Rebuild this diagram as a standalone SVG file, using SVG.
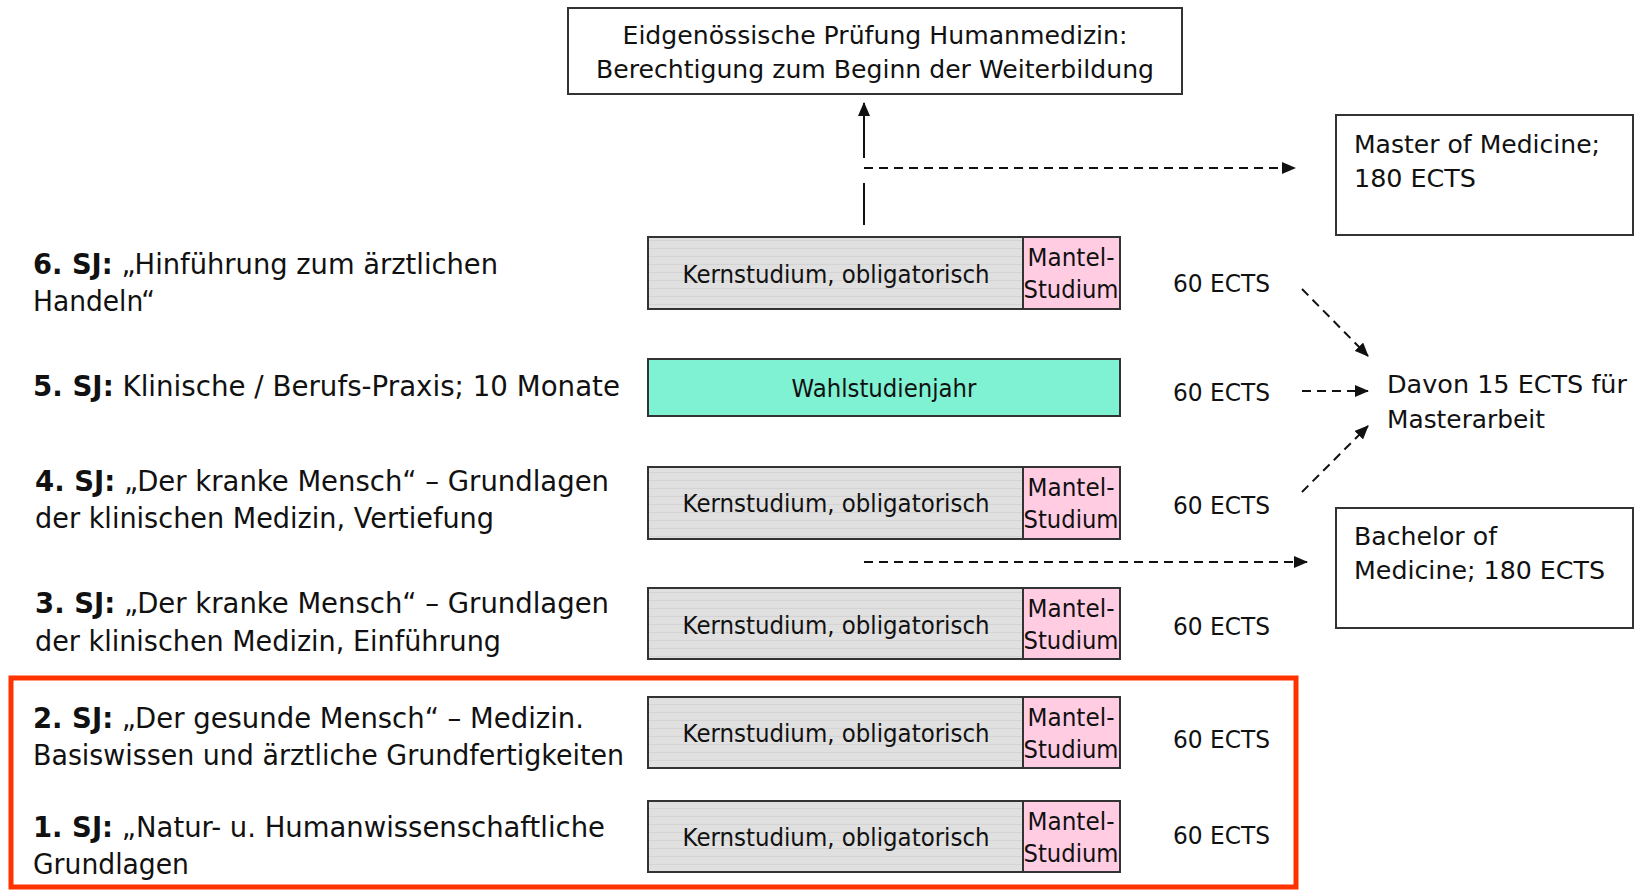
<svg xmlns="http://www.w3.org/2000/svg" width="1640" height="891" viewBox="0 0 1640 891">
<style>
text{font-family:"DejaVu Sans","Liberation Sans",sans-serif;fill:#111;}
.lbl{font-size:28px;}
.b{font-weight:bold;}
.box{fill:#fff;stroke:#333;stroke-width:2;}
.bt{font-size:25px;}
.kern{fill:url(#stripes);stroke:#333;stroke-width:2;}
.mant{fill:#FFCCE2;stroke:#333;stroke-width:2;}
.wahl{fill:#80F2D4;stroke:#333;stroke-width:2;}
.bar{font-size:24px;text-anchor:middle;}
.mt{font-size:24px;text-anchor:middle;}
.ects{font-size:25px;}
.dash{stroke:#111;stroke-width:2;stroke-dasharray:9 6;fill:none;marker-end:url(#ah);}
.solid{stroke:#111;stroke-width:2;fill:none;}
</style>
<defs>
<pattern id="stripes" width="10" height="8" patternUnits="userSpaceOnUse">
<rect width="10" height="8" fill="#E0E0E0"/>
<rect y="0" width="10" height="1" fill="#D4D4D4"/>
</pattern>
<marker id="ah" viewBox="0 0 14 12" refX="13" refY="6" markerWidth="14" markerHeight="12" markerUnits="userSpaceOnUse" orient="auto">
<path d="M0,0 L14,6 L0,12 Z" fill="#111"/>
</marker>
</defs>
<rect width="1640" height="891" fill="#fff"/>

<g id="pruefung">
<rect class="box" x="568" y="8" width="614" height="86"/>
<text class="bt" x="875" y="44" text-anchor="middle" textLength="505" lengthAdjust="spacingAndGlyphs">Eidgenössische Prüfung Humanmedizin:</text>
<text class="bt" x="875" y="78" text-anchor="middle" textLength="558" lengthAdjust="spacingAndGlyphs">Berechtigung zum Beginn der Weiterbildung</text>
</g>

<g id="master">
<rect class="box" x="1336" y="115" width="297" height="120"/>
<text class="bt" x="1354" y="153" textLength="246" lengthAdjust="spacingAndGlyphs">Master of Medicine;</text>
<text class="bt" x="1354" y="187" textLength="122" lengthAdjust="spacingAndGlyphs">180 ECTS</text>
</g>

<g id="davon">
<text class="bt" x="1387" y="393" textLength="240" lengthAdjust="spacingAndGlyphs">Davon 15 ECTS für</text>
<text class="bt" x="1387" y="428" textLength="158" lengthAdjust="spacingAndGlyphs">Masterarbeit</text>
</g>

<g id="bachelor">
<rect class="box" x="1336" y="508" width="297" height="120"/>
<text class="bt" x="1354" y="545" textLength="143" lengthAdjust="spacingAndGlyphs">Bachelor of</text>
<text class="bt" x="1354" y="579" textLength="251" lengthAdjust="spacingAndGlyphs">Medicine; 180 ECTS</text>
</g>

<g id="sj6">
<text class="lbl" x="33" y="274" textLength="465" lengthAdjust="spacingAndGlyphs"><tspan class="b">6. SJ:</tspan> „Hinführung zum ärztlichen</text>
<text class="lbl" x="33" y="311" textLength="122" lengthAdjust="spacingAndGlyphs">Handeln“</text>
<rect class="kern" x="648" y="237" width="375" height="72"/>
<rect class="mant" x="1023" y="237" width="97" height="72"/>
<text class="bar" x="836" y="283" textLength="307" lengthAdjust="spacingAndGlyphs">Kernstudium, obligatorisch</text>
<text class="mt" x="1071" y="266" textLength="87" lengthAdjust="spacingAndGlyphs">Mantel-</text>
<text class="mt" x="1071" y="298" textLength="95" lengthAdjust="spacingAndGlyphs">Studium</text>
<text class="ects" x="1173" y="292" textLength="97" lengthAdjust="spacingAndGlyphs">60 ECTS</text>
</g>

<g id="sj5">
<text class="lbl" x="33" y="396" textLength="587" lengthAdjust="spacingAndGlyphs"><tspan class="b">5. SJ:</tspan> Klinische / Berufs-Praxis; 10 Monate</text>
<rect class="wahl" x="648" y="359" width="472" height="57"/>
<text class="bar" x="884" y="397" textLength="185" lengthAdjust="spacingAndGlyphs">Wahlstudienjahr</text>
<text class="ects" x="1173" y="401" textLength="97" lengthAdjust="spacingAndGlyphs">60 ECTS</text>
</g>

<g id="sj4">
<text class="lbl" x="35" y="491" textLength="574" lengthAdjust="spacingAndGlyphs"><tspan class="b">4. SJ:</tspan> „Der kranke Mensch“ – Grundlagen</text>
<text class="lbl" x="35" y="528" textLength="459" lengthAdjust="spacingAndGlyphs">der klinischen Medizin, Vertiefung</text>
<rect class="kern" x="648" y="467" width="375" height="72"/>
<rect class="mant" x="1023" y="467" width="97" height="72"/>
<text class="bar" x="836" y="512" textLength="307" lengthAdjust="spacingAndGlyphs">Kernstudium, obligatorisch</text>
<text class="mt" x="1071" y="496" textLength="87" lengthAdjust="spacingAndGlyphs">Mantel-</text>
<text class="mt" x="1071" y="528" textLength="95" lengthAdjust="spacingAndGlyphs">Studium</text>
<text class="ects" x="1173" y="514" textLength="97" lengthAdjust="spacingAndGlyphs">60 ECTS</text>
</g>

<g id="sj3">
<text class="lbl" x="35" y="613" textLength="574" lengthAdjust="spacingAndGlyphs"><tspan class="b">3. SJ:</tspan> „Der kranke Mensch“ – Grundlagen</text>
<text class="lbl" x="35" y="651" textLength="466" lengthAdjust="spacingAndGlyphs">der klinischen Medizin, Einführung</text>
<rect class="kern" x="648" y="588" width="375" height="71"/>
<rect class="mant" x="1023" y="588" width="97" height="71"/>
<text class="bar" x="836" y="634" textLength="307" lengthAdjust="spacingAndGlyphs">Kernstudium, obligatorisch</text>
<text class="mt" x="1071" y="617" textLength="87" lengthAdjust="spacingAndGlyphs">Mantel-</text>
<text class="mt" x="1071" y="649" textLength="95" lengthAdjust="spacingAndGlyphs">Studium</text>
<text class="ects" x="1173" y="635" textLength="97" lengthAdjust="spacingAndGlyphs">60 ECTS</text>
</g>

<g id="sj2">
<text class="lbl" x="33" y="728" textLength="551" lengthAdjust="spacingAndGlyphs"><tspan class="b">2. SJ:</tspan> „Der gesunde Mensch“ – Medizin.</text>
<text class="lbl" x="33" y="765" textLength="591" lengthAdjust="spacingAndGlyphs">Basiswissen und ärztliche Grundfertigkeiten</text>
<rect class="kern" x="648" y="697" width="375" height="71"/>
<rect class="mant" x="1023" y="697" width="97" height="71"/>
<text class="bar" x="836" y="742" textLength="307" lengthAdjust="spacingAndGlyphs">Kernstudium, obligatorisch</text>
<text class="mt" x="1071" y="726" textLength="87" lengthAdjust="spacingAndGlyphs">Mantel-</text>
<text class="mt" x="1071" y="758" textLength="95" lengthAdjust="spacingAndGlyphs">Studium</text>
<text class="ects" x="1173" y="748" textLength="97" lengthAdjust="spacingAndGlyphs">60 ECTS</text>
</g>

<g id="sj1">
<text class="lbl" x="33" y="837" textLength="572" lengthAdjust="spacingAndGlyphs"><tspan class="b">1. SJ:</tspan> „Natur- u. Humanwissenschaftliche</text>
<text class="lbl" x="33" y="874" textLength="156" lengthAdjust="spacingAndGlyphs">Grundlagen</text>
<rect class="kern" x="648" y="801" width="375" height="71"/>
<rect class="mant" x="1023" y="801" width="97" height="71"/>
<text class="bar" x="836" y="846" textLength="307" lengthAdjust="spacingAndGlyphs">Kernstudium, obligatorisch</text>
<text class="mt" x="1071" y="830" textLength="87" lengthAdjust="spacingAndGlyphs">Mantel-</text>
<text class="mt" x="1071" y="862" textLength="95" lengthAdjust="spacingAndGlyphs">Studium</text>
<text class="ects" x="1173" y="844" textLength="97" lengthAdjust="spacingAndGlyphs">60 ECTS</text>
</g>

<g id="highlight">
<rect x="11" y="678" width="1285" height="209" fill="none" stroke="#FF3300" stroke-width="5"/>
</g>

<g id="connectors">
<line class="solid" x1="864" y1="225" x2="864" y2="183"/>
<line class="solid" x1="864" y1="158" x2="864" y2="103" marker-end="url(#ah)"/>
<line class="dash" x1="864" y1="168" x2="1295" y2="168"/>
<line class="dash" x1="864" y1="562" x2="1307" y2="562"/>
<line class="dash" x1="1302" y1="289" x2="1368" y2="356"/>
<line class="dash" x1="1302" y1="391" x2="1368" y2="391"/>
<line class="dash" x1="1302" y1="492" x2="1368" y2="426"/>
</g>
</svg>
